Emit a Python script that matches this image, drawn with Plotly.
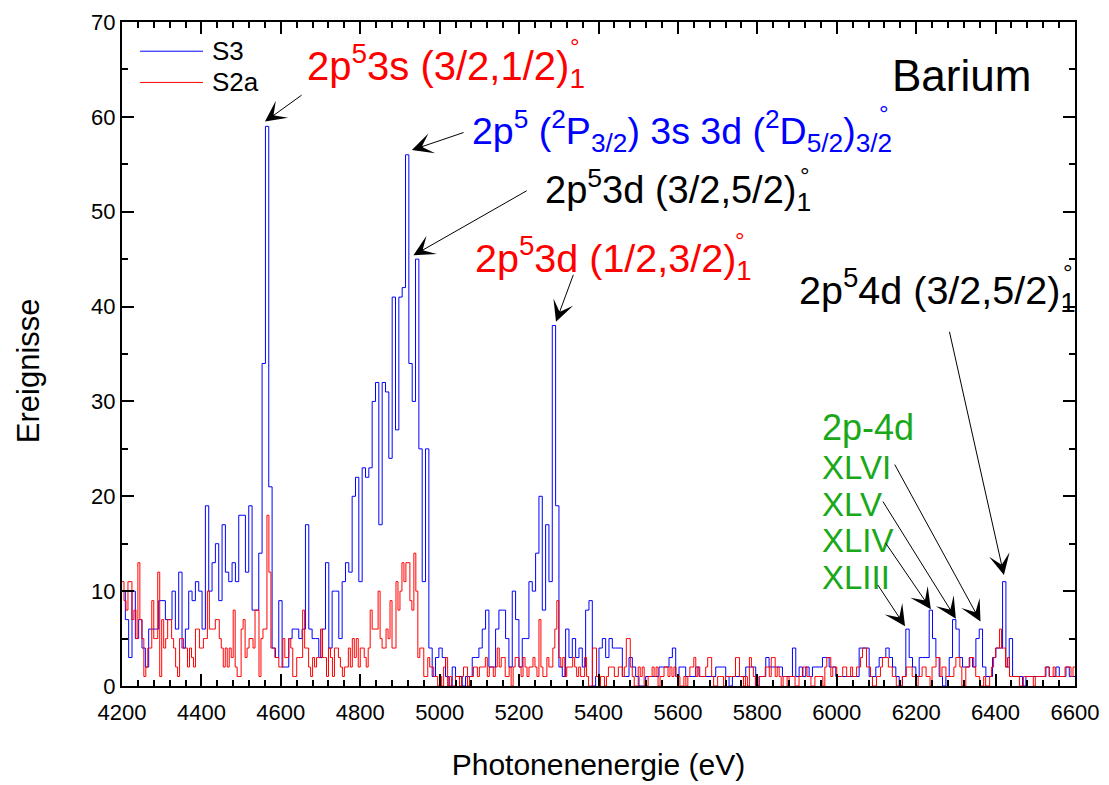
import plotly.graph_objects as go

# ---------------------------------------------------------------
# Barium L-shell X-ray spectra: two measurement series (counts per bin)
# ---------------------------------------------------------------
E_START = 4200.0      # lower edge of the first bin (eV)
S3_BIN = 8.4          # bin width of series S3 (eV)
S2A_BIN = 5.0         # bin width of series S2a (eV)

s3_counts = [
    10, 7, 3, 10, 5, 7, 4, 2, 6, 6, 6, 9, 9, 7, 7, 10, 6, 12, 4, 6,
    10, 9, 11, 10, 6, 19, 10, 13, 15, 9, 17, 12, 11, 13, 11, 18, 18, 12, 19, 8,
    8, 14, 34, 59, 21, 4, 3, 9, 2, 2, 5, 6, 6, 5, 6, 17, 6, 5, 5, 3,
    6, 13, 4, 10, 10, 5, 11, 13, 12, 20, 22, 11, 23, 22, 23, 30, 32, 17, 32, 31,
    24, 41, 27, 41, 42, 56, 34, 30, 45, 25, 11, 25, 4, 1, 3, 4, 3, 1, 0, 2,
    1, 1, 0, 1, 1, 3, 3, 4, 6, 8, 2, 2, 6, 8, 8, 5, 2, 10, 7, 2,
    5, 5, 11, 10, 14, 20, 8, 17, 11, 38, 19, 2, 1, 6, 3, 5, 3, 4, 2, 8,
    9, 0, 1, 4, 5, 3, 5, 4, 4, 4, 1, 1, 3, 2, 1, 0, 0, 1, 1, 1,
    1, 2, 2, 2, 3, 4, 1, 2, 2, 1, 1, 1, 2, 1, 1, 1, 1, 1, 2, 2,
    2, 1, 0, 1, 1, 1, 1, 2, 2, 2, 0, 1, 1, 3, 2, 2, 2, 2, 1, 1,
    1, 4, 1, 2, 1, 2, 1, 2, 2, 2, 3, 3, 2, 2, 1, 1, 1, 1, 1, 1,
    1, 4, 4, 4, 1, 1, 2, 3, 3, 4, 3, 2, 1, 0, 1, 6, 3, 2, 1, 3,
    3, 3, 8, 5, 3, 1, 0, 1, 3, 7, 6, 3, 2, 2, 3, 2, 5, 6, 2, 1,
    1, 3, 4, 4, 11, 2, 5, 1, 1, 1, 0, 1, 1, 1, 1, 1, 1, 2, 1, 1,
    2, 1, 1, 2, 1, 1,
]

s2a_counts = [
    11, 9, 8, 11, 11, 7, 8, 5, 13, 7, 5, 1, 2, 4, 4, 9, 5, 5, 12, 1,
    7, 4, 5, 7, 7, 5, 4, 2, 1, 5, 5, 4, 4, 2, 4, 3, 2, 6, 6, 4,
    4, 5, 5, 10, 6, 6, 6, 7, 7, 5, 4, 2, 4, 2, 4, 3, 8, 2, 1, 1,
    6, 7, 3, 4, 5, 5, 4, 8, 8, 1, 5, 6, 6, 18, 12, 4, 4, 3, 3, 2,
    2, 5, 3, 3, 5, 4, 1, 1, 3, 3, 3, 8, 4, 4, 2, 1, 3, 2, 3, 3,
    6, 3, 3, 1, 4, 3, 1, 4, 4, 3, 2, 1, 2, 2, 4, 2, 5, 3, 5, 2,
    4, 4, 3, 2, 4, 8, 6, 6, 6, 10, 5, 4, 4, 6, 5, 9, 4, 4, 11, 8,
    10, 13, 11, 13, 13, 9, 8, 14, 10, 3, 4, 4, 1, 1, 3, 2, 2, 1, 1, 0,
    1, 0, 2, 3, 0, 1, 0, 0, 1, 1, 0, 1, 2, 2, 0, 1, 1, 2, 2, 1,
    2, 2, 2, 3, 1, 2, 2, 1, 2, 4, 2, 3, 3, 1, 1, 2, 0, 2, 3, 3,
    2, 1, 3, 2, 1, 2, 2, 3, 2, 1, 7, 2, 1, 1, 3, 2, 2, 4, 6, 9,
    3, 2, 3, 1, 2, 2, 2, 3, 2, 1, 2, 1, 1, 3, 1, 0, 0, 4, 4, 1,
    0, 1, 1, 0, 1, 2, 2, 2, 1, 1, 2, 2, 1, 2, 5, 5, 2, 1, 0, 0,
    2, 1, 2, 0, 0, 1, 1, 2, 1, 2, 0, 1, 1, 2, 2, 1, 2, 1, 2, 1,
    1, 0, 0, 1, 0, 1, 2, 2, 3, 1, 2, 1, 1, 1, 2, 3, 3, 1, 0, 0,
    1, 1, 1, 0, 1, 1, 1, 1, 1, 3, 3, 1, 1, 0, 1, 0, 3, 2, 1, 0,
    0, 1, 1, 1, 2, 2, 1, 3, 3, 1, 2, 1, 0, 1, 1, 0, 1, 1, 1, 0,
    0, 1, 1, 2, 2, 1, 1, 0, 0, 1, 1, 1, 1, 0, 2, 3, 3, 1, 2, 2,
    1, 1, 1, 2, 2, 1, 1, 2, 1, 1, 2, 2, 3, 4, 4, 2, 2, 1, 0, 0,
    1, 1, 2, 3, 3, 3, 2, 2, 1, 1, 0, 0, 0, 1, 1, 2, 2, 2, 1, 1,
    0, 1, 1, 2, 2, 1, 1, 0, 2, 2, 3, 3, 1, 2, 2, 1, 1, 1, 1, 2,
    3, 3, 2, 0, 0, 2, 2, 3, 3, 2, 1, 1, 0, 0, 1, 0, 0, 1, 2, 3,
    4, 4, 6, 4, 4, 2, 3, 1, 1, 1, 1, 1, 0, 0, 1, 1, 1, 1, 1, 0,
    1, 1, 1, 1, 1, 2, 2, 1, 1, 2, 1, 1, 1, 1, 1, 2, 2, 2, 1, 2,
]

series_names = ["S3", "S2a"]
series_colors = ["#0000ff", "#ff0000"]

x_ticks = list(range(4200, 6601, 200))
y_ticks = list(range(0, 71, 10))

FONT = "Liberation Sans, Arial, sans-serif"

# Line assignments: (label html, colour, font size, left edge eV, centre counts)
labels = [
    ("2p<sup>5</sup>3s (3/2,1/2)<sub>1</sub>", "#ff0000", 40, 4661, 65.4),
    ("2p<sup>5</sup> (<sup>2</sup>P<sub>3/2</sub>) 3s 3d (<sup>2</sup>D<sub>5/2</sub>)<sub>3/2</sub>",
     "#0000ff", 37.5, 5076, 58.5),
    ("2p<sup>5</sup>3d (3/2,5/2)<sub>1</sub>", "#000000", 38, 5260, 52.3),
    ("2p<sup>5</sup>3d (1/2,3/2)<sub>1</sub>", "#ff0000", 39.5, 5084, 45.1),
    ("2p<sup>5</sup>4d (3/2,5/2)<sub>1</sub>", "#000000", 39.5, 5900, 41.7),
]
# parity marks stacked above the final subscript
degree_marks = [(5341, 67.4, "#ff0000"), (6119, 60.4, "#0000ff"), (5920, 53.8, "#000000"),
                (5756, 47.0, "#ff0000"), (6582, 43.6, "#000000")]

GREEN = "#1aa81a"
green_labels = [("2p-4d", 36, 27.2), ("XLVI", 33, 23.0), ("XLV", 33, 19.1),
                ("XLIV", 33, 15.3), ("XLIII", 33, 11.4)]
GREEN_X = 5958

# arrows: (head eV, head counts, tail eV, tail counts)
arrows = [
    (4560, 59.5, 4656, 62.4),
    (4930, 56.5, 5064, 58.4),
    (4934, 45.4, 5223, 52.3),
    (5293, 38.4, 5338, 43.5),
    (6421, 11.7, 6283, 37.5),
    (6362, 6.8, 6144, 23.5),
    (6300, 7.1, 6114, 19.6),
    (6237, 8.1, 6121, 15.2),
    (6172, 6.3, 6101, 10.8),
]


def steps(counts, start, width):
    xs = [start + i * width for i in range(len(counts) + 1)]
    ys = list(counts) + [counts[-1]]
    return xs, ys


fig = go.Figure()
for name, counts, width, color in zip(series_names, [s3_counts, s2a_counts],
                                      [S3_BIN, S2A_BIN], series_colors):
    xs, ys = steps(counts, E_START, width)
    fig.add_trace(go.Scatter(x=xs, y=ys, mode="lines", name=name, showlegend=False,
                             line=dict(color=color, width=1, shape="hv")))

ann = []
shapes = []

# legend box in the upper-left corner (long line samples)
legend_rows = [0.956, 0.909]
for name, color, yp in zip(series_names, series_colors, legend_rows):
    shapes.append(dict(type="line", xref="paper", yref="paper",
                       x0=0.019, x1=0.085, y0=yp, y1=yp,
                       line=dict(color=color, width=1)))
    ann.append(dict(x=0.092, y=yp, xref="paper", yref="paper", text=name,
                    showarrow=False, xanchor="left", yanchor="middle",
                    font=dict(family=FONT, size=26, color="black")))

for text, color, size, x, y in labels:
    ann.append(dict(x=x, y=y, xref="x", yref="y", text=text, showarrow=False,
                    xanchor="left", yanchor="middle",
                    font=dict(family=FONT, size=size, color=color)))
for x, y, color in degree_marks:
    ann.append(dict(x=x, y=y, xref="x", yref="y", text="°", showarrow=False,
                    xanchor="center", yanchor="middle",
                    font=dict(family=FONT, size=24, color=color)))
for text, size, y in green_labels:
    ann.append(dict(x=GREEN_X, y=y, xref="x", yref="y", text=text, showarrow=False,
                    xanchor="left", yanchor="middle",
                    font=dict(family=FONT, size=size, color=GREEN)))
ann.append(dict(x=6313, y=64.4, xref="x", yref="y", text="Barium", showarrow=False,
                xanchor="center", yanchor="middle",
                font=dict(family=FONT, size=44, color="black")))
for hx, hy, tx, ty in arrows:
    ann.append(dict(x=hx, y=hy, ax=tx, ay=ty, xref="x", yref="y", axref="x", ayref="y",
                    text="", showarrow=True, arrowhead=3, arrowsize=3.5,
                    arrowwidth=1, arrowcolor="black"))

# y-axis title
ann.append(dict(x=-0.098, y=0.475, xref="paper", yref="paper", text="Ereignisse",
                textangle=-90, showarrow=False, xanchor="center", yanchor="middle",
                font=dict(family=FONT, size=31, color="black")))

axis_common = dict(showline=True, linewidth=2, linecolor="black", mirror="ticks",
                   ticks="inside", ticklen=12, tickwidth=2, tickcolor="black",
                   showgrid=False, zeroline=False, automargin=False,
                   tickfont=dict(family=FONT, size=22, color="black"))

fig.update_layout(
    width=1109, height=785,
    margin=dict(l=122, r=34, t=22, b=99),
    paper_bgcolor="white", plot_bgcolor="white",
    font=dict(family=FONT, color="black"),
    annotations=ann,
    shapes=shapes,
    showlegend=False,
    xaxis=dict(range=[4200, 6600], tickvals=x_ticks, ticklabelstandoff=6,
               minor=dict(dtick=40, tick0=4200, ticks="inside", ticklen=6,
                          tickwidth=2, tickcolor="black", showgrid=False),
               title=dict(text="Photonenenergie (eV)", standoff=30,
                          font=dict(family=FONT, size=30)),
               **axis_common),
    yaxis=dict(range=[0, 70], tickvals=y_ticks,
               minor=dict(dtick=5, tick0=0, ticks="inside", ticklen=6,
                          tickwidth=2, tickcolor="black", showgrid=False),
               **axis_common),
)

fig.write_html("out.html")
